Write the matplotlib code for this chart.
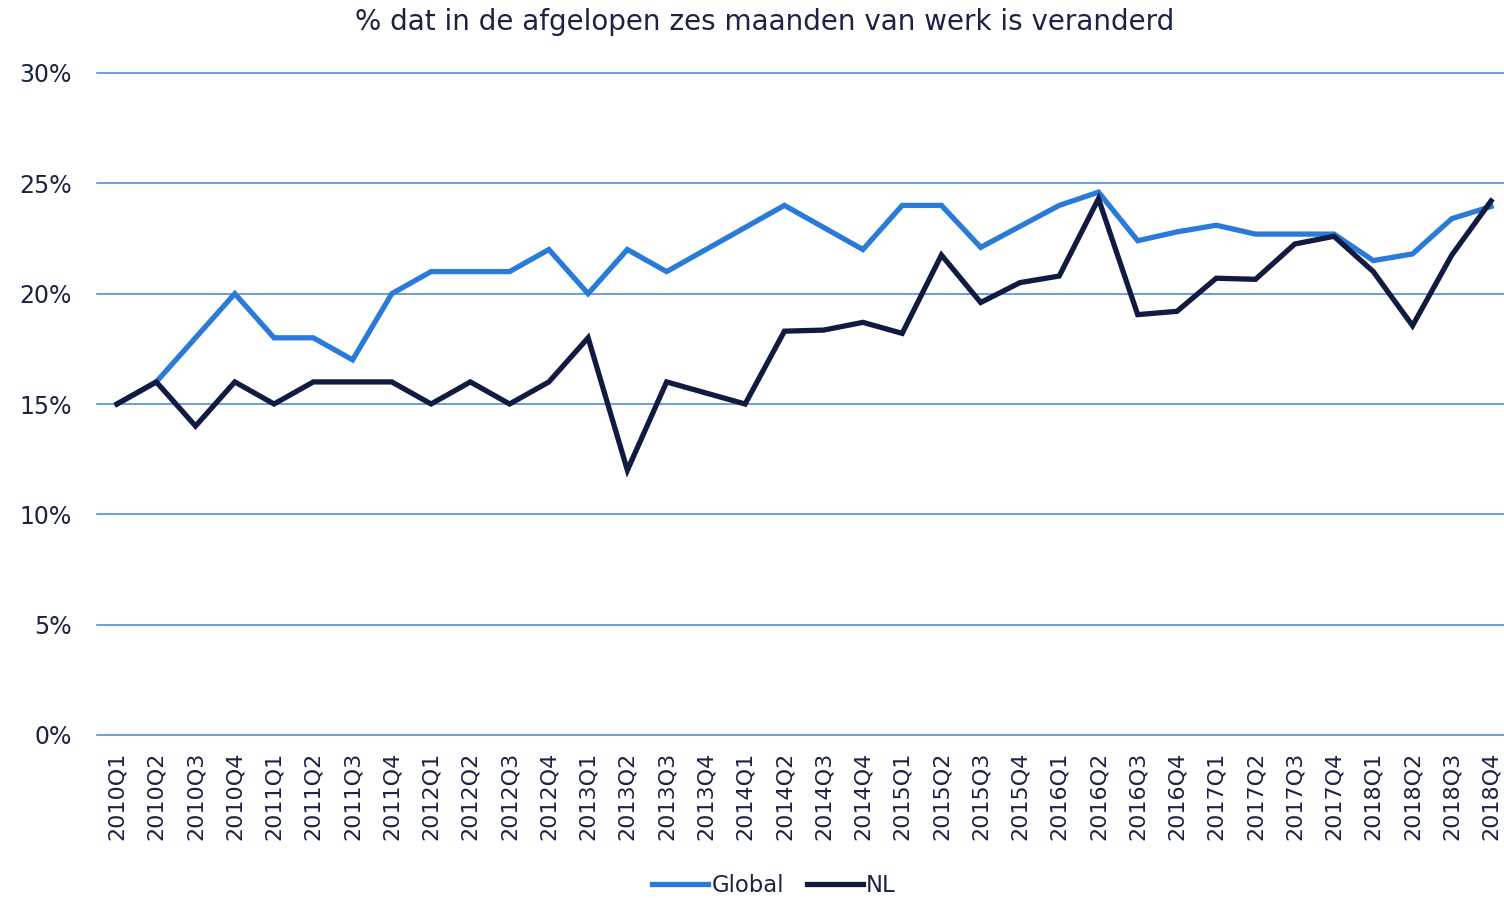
import matplotlib.pyplot as plt
from matplotlib.ticker import PercentFormatter

quarters = [f"{y}Q{q}" for y in range(2010, 2019) for q in range(1, 5)]

global_vals = [15, 16, 18, 20, 18, 18, 17, 20, 21, 21, 21, 22,
               20, 22, 21, 22, 23, 24, 23, 22, 24, 24, 22.1, 23.05,
               24, 24.6, 22.4, 22.8, 23.1, 22.7, 22.7, 22.7, 21.5, 21.8, 23.4, 23.95]
nl_vals = [15, 16, 14, 16, 15, 16, 16, 16, 15, 16, 15, 16,
           18, 12, 16, 15.5, 15, 18.3, 18.35, 18.7, 18.2, 21.75, 19.6, 20.5,
           20.8, 24.3, 19.05, 19.2, 20.7, 20.65, 22.25, 22.6, 21.0, 18.55, 21.75, 24.2]

blue = "#2a7ad9"
navy = "#111a40"
grid_col = "#4384d8"
text_col = "#1b2244"

fig = plt.figure(figsize=(15.04, 8.98), dpi=100)
ax = fig.add_axes([97 / 1504, 163 / 898, 1407 / 1504, 662 / 898])

x = list(range(len(quarters)))
ax.plot(x, global_vals, color=blue, lw=3.8, label="Global", solid_joinstyle="miter")
ax.plot(x, nl_vals, color=navy, lw=3.8, label="NL", solid_joinstyle="miter")

ax.set_ylim(0, 30)
ax.set_xlim(-0.51, 35.33)
ax.set_yticks(range(0, 31, 5))
ax.yaxis.set_major_formatter(PercentFormatter(decimals=0))
ax.set_xticks(x)
ax.set_xticklabels(quarters, rotation=90)
ax.grid(axis="y", color=grid_col, lw=1.1)
ax.set_axisbelow(True)
for gl in ax.get_ygridlines():
    gl.set_clip_on(False)
for s in ax.spines.values():
    s.set_visible(False)
ax.tick_params(axis="both", length=0, colors=text_col)
ax.tick_params(axis="y", labelsize=17, pad=18)
ax.tick_params(axis="x", labelsize=16, pad=12)

fig.text(765 / 1504, 1 - 22 / 898, "% dat in de afgelopen zes maanden van werk is veranderd",
         ha="center", va="center", fontsize=20, color=text_col)

fig.legend(loc="center", bbox_to_anchor=(774 / 1504, 1 - 885 / 898), ncol=2, frameon=False,
           fontsize=16.4, handlelength=2.45, handletextpad=0.15, columnspacing=1.0,
           labelcolor=text_col)

fig.savefig("out.png", dpi=100)
